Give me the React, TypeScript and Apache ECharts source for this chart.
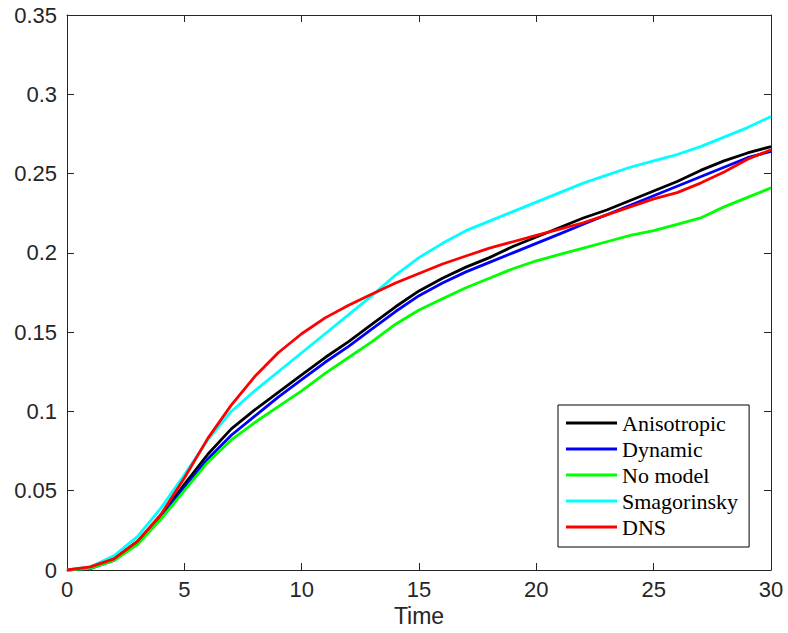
import React, { useEffect, useRef } from "react";
import * as echarts from "echarts";

const times = [0,1,2,3,4,5,6,7,8,9,10,11,12,13,14,15,16,17,18,19,20,21,22,23,24,25,26,27,28,29,30];
const anisotropic = [0,0.001,0.007,0.018,0.034,0.054,0.073,0.089,0.101,0.112,0.123,0.134,0.144,0.155,0.166,0.176,0.184,0.191,0.197,0.204,0.210,0.216,0.222,0.227,0.233,0.239,0.245,0.252,0.258,0.263,0.267];
const dynamic = [0,0.001,0.006,0.017,0.033,0.052,0.070,0.085,0.097,0.109,0.120,0.131,0.141,0.152,0.163,0.173,0.181,0.188,0.194,0.200,0.206,0.212,0.218,0.224,0.230,0.236,0.242,0.248,0.254,0.260,0.264];
const noModel = [0,0.001,0.006,0.016,0.032,0.050,0.068,0.082,0.093,0.103,0.113,0.124,0.134,0.144,0.155,0.164,0.171,0.178,0.184,0.190,0.195,0.199,0.203,0.207,0.211,0.214,0.218,0.222,0.229,0.235,0.241];
const smagorinsky = [0,0.002,0.009,0.021,0.039,0.060,0.082,0.100,0.113,0.125,0.137,0.149,0.161,0.173,0.186,0.197,0.206,0.214,0.220,0.226,0.232,0.238,0.244,0.249,0.254,0.258,0.262,0.267,0.273,0.279,0.286];
const dns = [0,0.002,0.007,0.018,0.035,0.058,0.083,0.104,0.122,0.137,0.149,0.159,0.167,0.174,0.181,0.187,0.193,0.198,0.203,0.207,0.211,0.215,0.219,0.224,0.229,0.234,0.238,0.244,0.251,0.259,0.265];

const seriesNames = ["Anisotropic", "Dynamic", "No model", "Smagorinsky", "DNS"];
const seriesColors = ["#000000", "#0000ff", "#00ff00", "#00ffff", "#ff0000"];
const seriesValues = [anisotropic, dynamic, noModel, smagorinsky, dns];

export default function App() {
  const ref = useRef<HTMLDivElement>(null);
  useEffect(() => {
    if (!ref.current) return;
    const chart = echarts.init(ref.current, null, { renderer: "svg" });
    const axisColor = "#262626";
    const labelFont = { color: axisColor, fontFamily: "Liberation Sans", fontSize: 22 };
    chart.setOption({
      animation: false,
      backgroundColor: "#ffffff",
      grid: { left: 67, top: 15, right: 17, bottom: 63, containLabel: false },
      legend: {
        orient: "vertical",
        left: 558,
        top: 405,
        data: seriesNames,
        icon: "rect",
        itemWidth: 51,
        itemHeight: 3,
        itemGap: 4,
        padding: [7, 11, 9, 8],
        borderColor: "#000000",
        borderWidth: 1,
        backgroundColor: "#ffffff",
        textStyle: { fontFamily: "Liberation Serif", fontSize: 22, lineHeight: 20, color: "#000000" },
      },
      xAxis: [
        {
          type: "value", min: 0, max: 30, interval: 5,
          name: "Time", nameLocation: "middle", nameGap: 30,
          nameTextStyle: { ...labelFont, fontSize: 23 },
          axisLine: { show: true, lineStyle: { color: axisColor, width: 1 } },
          axisTick: { show: true, inside: true, length: 7, lineStyle: { color: axisColor } },
          axisLabel: { ...labelFont, margin: 8 },
          splitLine: { show: false },
        },
        {
          type: "value", min: 0, max: 30, interval: 5, position: "top",
          axisLine: { show: true, onZero: false, lineStyle: { color: axisColor, width: 1 } },
          axisTick: { show: true, inside: true, length: 7, lineStyle: { color: axisColor } },
          axisLabel: { show: false },
          splitLine: { show: false },
        },
      ],
      yAxis: [
        {
          type: "value", min: 0, max: 0.35, interval: 0.05,
          axisLine: { show: true, lineStyle: { color: axisColor, width: 1 } },
          axisTick: { show: true, inside: true, length: 7, lineStyle: { color: axisColor } },
          axisLabel: { ...labelFont, margin: 10, formatter: (v: number) => String(parseFloat(v.toFixed(2))) },
          splitLine: { show: false },
        },
        {
          type: "value", min: 0, max: 0.35, interval: 0.05, position: "right",
          axisLine: { show: true, onZero: false, lineStyle: { color: axisColor, width: 1 } },
          axisTick: { show: true, inside: true, length: 7, lineStyle: { color: axisColor } },
          axisLabel: { show: false },
          splitLine: { show: false },
        },
      ],
      series: seriesNames.map((name, i) => ({
        name,
        type: "line",
        xAxisIndex: 0,
        yAxisIndex: 0,
        symbol: "none",
        smooth: false,
        color: seriesColors[i],
        itemStyle: { color: seriesColors[i] },
        lineStyle: { color: seriesColors[i], width: 2.8 },
        data: times.map((t, k) => [t, seriesValues[i][k]]),
      })),
    });
    return () => chart.dispose();
  }, []);
  return (
    <div
      ref={ref}
      style={{ position: "fixed", left: 0, top: 0, width: 788, height: 633, background: "#fff" }}
    />
  );
}
